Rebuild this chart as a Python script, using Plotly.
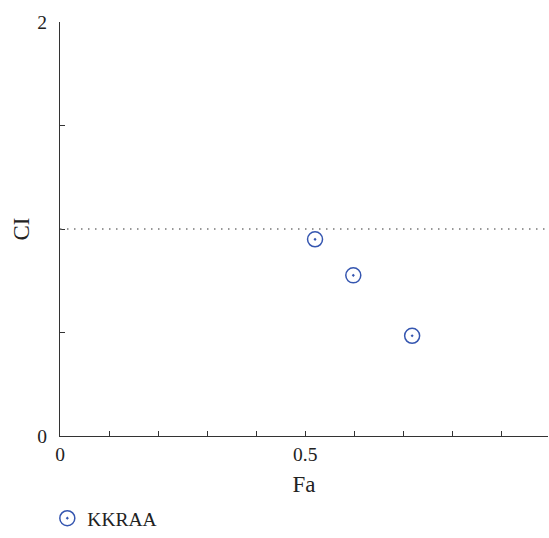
import plotly.graph_objects as go

fa = [0.52, 0.598, 0.718]
ci = [0.95, 0.776, 0.484]
series_name = "KKRAA"
x_tickvals = [0, 0.1, 0.2, 0.3, 0.4, 0.5, 0.6, 0.7, 0.8, 0.9]
x_ticktext = ["0", "", "", "", "", "0.5", "", "", "", ""]
y_tickvals = [0, 0.5, 1, 1.5, 2]
y_ticktext = ["0", "", "", "", "2"]
ref_level = 1

color = "#3556b0"
font = dict(family="Liberation Serif", size=19.5, color="#222")

fig = go.Figure()
fig.add_trace(go.Scatter(
    x=fa, y=ci, mode="markers", name=series_name,
    marker=dict(symbol="circle-open-dot", size=15, color=color,
                line=dict(width=1.5, color=color)),
))
fig.add_shape(type="line", xref="paper", x0=0, x1=1, yref="y", y0=ref_level, y1=ref_level,
              line=dict(color="#777", width=1.5, dash="1.5px,5.5px"))

fig.update_layout(
    width=549, height=538,
    margin=dict(l=60, r=1, t=22, b=102),
    plot_bgcolor="white", paper_bgcolor="white",
    font=font,
    showlegend=True,
    legend=dict(orientation="h", x=-0.026, xanchor="left",
                yref="container", y=0.0, yanchor="bottom", font=font,
                borderwidth=0, bgcolor="rgba(0,0,0,0)"),
    xaxis=dict(range=[0, 0.995], tickvals=x_tickvals, ticktext=x_ticktext,
               ticks="inside", ticklen=5, tickcolor="#333", showline=True,
               linecolor="#333", linewidth=1.2, showgrid=False, zeroline=False,
               ticklabelstandoff=0, automargin=False,
               title=dict(text="Fa", standoff=12), tickfont=font),
    yaxis=dict(range=[0, 2], tickvals=y_tickvals, ticktext=y_ticktext,
               ticks="inside", ticklen=5, tickcolor="#333", showline=True,
               linecolor="#333", linewidth=1.2, showgrid=False, zeroline=False,
               ticklabelstandoff=8, automargin=False,
               title=dict(text="CI", standoff=1), tickfont=font),
)
fig.write_html("out.html")
